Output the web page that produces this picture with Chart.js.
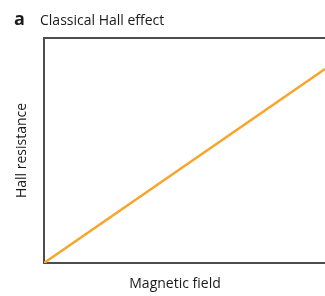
<!DOCTYPE html>
<html>
<head>
<meta charset="utf-8">
<script src="https://cdn.jsdelivr.net/npm/chart.js@4/dist/chart.umd.min.js"></script>
<style>
  html, body { margin: 0; padding: 0; background: #fff; }
  #wrap { width: 325px; height: 296px; }
</style>
</head>
<body>
<div id="wrap"><canvas id="hall"></canvas></div>
<script>
// field (arbitrary units) and Hall resistance, straight line through origin
const field = [0, 1];
const resistance = [0, 0.862];

const panelTitle = {
  id: 'panelTitle',
  afterDraw(chart) {
    const ctx = chart.ctx;
    ctx.save();
    ctx.fillStyle = '#1a1a1a';
    ctx.textBaseline = 'alphabetic';
    ctx.font = 'bold 18px "Open Sans"';
    ctx.fillText('a', 14, 25);
    ctx.font = '14px "Open Sans"';
    ctx.fillText('Classical Hall effect', 40, 25);
    // x label sits a little left of the (cropped) plot centre
    ctx.textAlign = 'center';
    ctx.textBaseline = 'middle';
    ctx.fillText('Magnetic field', 175, 284);
    ctx.restore();
  }
};

new Chart(document.getElementById('hall'), {
  type: 'line',
  data: {
    datasets: [{
      data: field.map((x, i) => ({ x: x, y: resistance[i] })),
      borderColor: '#f7a52c',
      borderWidth: 2.5,
      pointRadius: 0,
      tension: 0
    }]
  },
  options: {
    responsive: true,
    maintainAspectRatio: false,
    animation: false,
    layout: { padding: { top: 38, right: 0, left: 0, bottom: 0 } },
    plugins: {
      legend: { display: false },
      tooltip: { enabled: false }
    },
    scales: {
      x: {
        type: 'linear',
        min: 0, max: 1,
        grid: { display: false },
        border: { display: true, color: '#4d4d4d', width: 2 },
        ticks: { display: false },
        afterFit: s => { s.height = 33; }
      },
      y: {
        min: 0, max: 1,
        grid: { display: false },
        border: { display: true, color: '#4d4d4d', width: 2 },
        ticks: { display: false },
        title: {
          display: true, text: 'Hall resistance', color: '#1a1a1a',
          font: { family: 'Open Sans', size: 14 },
          padding: { top: 14, bottom: 0 }
        },
        afterFit: s => { s.width = 44; }
      }
    }
  },
  plugins: [panelTitle, {
    id: 'topBorder',
    afterDraw(chart) {
      const a = chart.chartArea, ctx = chart.ctx;
      ctx.save();
      ctx.strokeStyle = '#4d4d4d';
      ctx.lineWidth = 2;
      ctx.beginPath();
      ctx.moveTo(a.left - 1, a.top);
      ctx.lineTo(a.right, a.top);
      ctx.stroke();
      ctx.restore();
    }
  }]
});
</script>
</body>
</html>
